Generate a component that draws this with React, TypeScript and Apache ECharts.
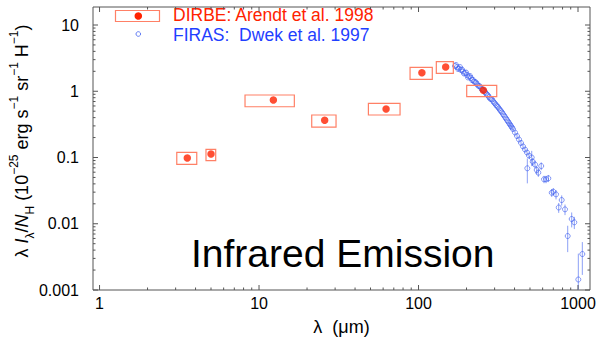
import React, { useEffect, useRef } from 'react';
import * as echarts from 'echarts';

const FONT = '"Liberation Sans", Arial, Helvetica, sans-serif';

// DIRBE (Arendt et al. 1998): wavelength (um), value, band edges, value range
const dirbeWavelength = [3.55, 5.0, 12.3, 25.8, 62.6, 105, 148, 255];
const dirbeValue = [0.0983, 0.113, 0.738, 0.364, 0.54, 1.905, 2.323, 1.034];
const dirbeBandLow = [3.05, 4.65, 8.17, 21.4, 48.5, 88.5, 129.3, 200.5];
const dirbeBandHigh = [4.07, 5.35, 16.65, 30.4, 76.6, 122, 165.3, 309.3];
const dirbeRangeLow = [0.079, 0.0895, 0.584, 0.288, 0.438, 1.515, 1.866, 0.827];
const dirbeRangeHigh = [0.1198, 0.133, 0.878, 0.438, 0.658, 2.3, 2.793, 1.23];

// FIRAS (Dwek et al. 1997)
const firasWavelength = [
  169.3, 171.8, 174.3, 176.8, 179.4, 182.0, 184.7, 187.4, 190.1, 192.9, 195.7, 198.6,
  201.4, 204.4, 207.3, 210.3, 213.4, 216.5, 219.7, 222.8, 226.1, 229.4, 232.8, 236.1,
  239.6, 243.1, 246.6, 250.1, 253.8, 257.5, 261.3, 265.0, 268.9, 272.8, 276.7, 280.8,
  284.9, 289.0, 293.2, 297.5, 301.8, 306.2, 310.6, 315.1, 319.7, 324.3, 329.0, 333.8,
  338.7, 343.6, 348.6, 353.7, 358.8, 364.0, 369.3, 374.7, 380.1, 385.6, 391.2, 402.7,
  414.5, 426.6, 439.1, 451.9, 465.2, 478.8, 481.0, 492.8, 512.6, 520.0, 537.6, 550.9,
  563.8, 588.0, 612.2, 630.1, 651.4, 684.2, 700.2, 728.1, 756.9, 790.4, 828.9, 861.8,
  912.9, 948.0, 1004.4, 1064.1,
];
const firasValue = [
  2.405, 2.49, 2.323, 2.17, 2.205, 2.32, 2.093, 2.13, 1.987, 1.853, 1.886, 1.919,
  1.759, 1.613, 1.67, 1.7, 1.585, 1.478, 1.478, 1.403, 1.379, 1.356, 1.286, 1.221,
  1.2, 1.179, 1.12, 1.063, 1.044, 1.026, 0.974, 0.925, 0.893, 0.863, 0.819, 0.777,
  0.764, 0.751, 0.712, 0.676, 0.653, 0.62, 0.599, 0.578, 0.549, 0.521, 0.503, 0.478,
  0.453, 0.431, 0.409, 0.388, 0.368, 0.35, 0.332, 0.315, 0.299, 0.284, 0.269, 0.238,
  0.211, 0.187, 0.166, 0.147, 0.132, 0.119, 0.0687, 0.107, 0.1, 0.0864, 0.0784, 0.0648,
  0.059, 0.0744, 0.0469, 0.0469, 0.0485, 0.0294, 0.0305, 0.0278, 0.0176, 0.0228, 0.0165, 0.00653,
  0.0118, 0.01051, 0.00144, 0.00349,
];
const firasError = [
  0, 0, 0, 0, 0, 0, 0, 0, 0, 0, 0, 0,
  0, 0, 0, 0, 0, 0, 0, 0, 0, 0, 0, 0,
  0, 0, 0, 0, 0, 0, 0, 0, 0, 0, 0, 0,
  0, 0, 0, 0, 0, 0, 0, 0, 0, 0, 0, 0,
  0, 0, 0, 0, 0, 0, 0.02, 0.02, 0.02, 0.02, 0.02, 0.02,
  0.018, 0.016, 0.014, 0.013, 0.012, 0.011, 0.028, 0.01, 0.026, 0.012, 0.011, 0.009,
  0.008, 0.01, 0.006, 0.006, 0.006, 0.004, 0.004, 0.0045, 0.003, 0.004, 0.003, 0.0028,
  0.003, 0.0022, 0.0021, 0.0018,
];

const xTickValues = [1, 10, 100, 1000];
const xTickLabels = ['1', '10', '100', '1000'];
const yTickValues = [0.001, 0.01, 0.1, 1, 10];
const yTickLabels = ['0.001', '0.01', '0.1', '1', '10'];

const X_MIN = 0.91;
const X_MAX = 1189;
const Y_MIN = 0.001;
const Y_MAX = 18.7;

const L = Math.log10;

const RED = '#ff2200';
const BOX = '#ff8066';
const BLUE = '#3f5ff0';
const BLUE_TEXT = '#1f40ff';
const ERR = '#8ca0f5';
const AXIS = '#555555';

export default function App() {
  const ref = useRef<HTMLDivElement>(null);
  useEffect(() => {
    document.body.style.margin = '0';
    const chart = echarts.init(ref.current!, null, { renderer: 'svg' });
    const xmin = L(X_MIN), xmax = L(X_MAX), ymin = L(Y_MIN), ymax = L(Y_MAX);

    const xTicks: number[][] = [];
    xTickValues.forEach((v, i) => xTicks.push([L(v), ymin, 1, i]));
    [1, 10, 100].forEach((d) => {
      for (let k = 2; k <= 9; k++) xTicks.push([L(d * k), ymin, 0, -1]);
    });
    const yTicks: number[][] = [];
    yTickValues.forEach((v, i) => yTicks.push([xmin, L(v), 1, i]));
    yTickValues.forEach((d) => {
      for (let k = 2; k <= 9; k++) if (L(d * k) < ymax) yTicks.push([xmin, L(d * k), 0, -1]);
    });

    const tickStyle = { stroke: AXIS, lineWidth: 1 };

    const option: any = {
      animation: false,
      grid: { left: 93, top: 7, width: 497, height: 283, show: true, borderColor: AXIS, borderWidth: 1, backgroundColor: 'transparent' },
      xAxis: { type: 'value', min: xmin, max: xmax, show: false, splitLine: { show: false } },
      yAxis: { type: 'value', min: ymin, max: ymax, show: false, splitLine: { show: false } },
      graphic: [
        { type: 'rect', shape: { x: 115.5, y: 10.5, width: 44, height: 11 }, style: { fill: 'none', stroke: BOX, lineWidth: 1.2 } },
        { type: 'circle', shape: { cx: 138.3, cy: 16, r: 3.8 }, style: { fill: RED } },
        { type: 'text', x: 173, y: 15, style: { text: 'DIRBE: Arendt et al. 1998', fill: RED, fontSize: 17.5, lineHeight: 17, fontFamily: FONT, align: 'left', verticalAlign: 'middle' } },
        { type: 'circle', shape: { cx: 138.3, cy: 34, r: 2.3 }, style: { fill: 'none', stroke: BLUE, lineWidth: 0.8 } },
        { type: 'text', x: 173, y: 34.5, style: { text: 'FIRAS:  Dwek et al. 1997', fill: BLUE_TEXT, fontSize: 17.5, lineHeight: 17, fontFamily: FONT, align: 'left', verticalAlign: 'middle' } },
        { type: 'text', x: 191, y: 253.5, style: { text: 'Infrared Emission', fill: '#000', fontSize: 39, fontFamily: FONT, align: 'left', verticalAlign: 'middle' } },
        { type: 'text', x: 341.5, y: 327, style: { text: 'λ  (μm)', fill: '#000', fontSize: 18, fontFamily: FONT, align: 'center', verticalAlign: 'middle' } },
        {
          type: 'text', x: 22, y: 141, rotation: Math.PI / 2,
          style: {
            text: '{m|λ }{i|I}{s|λ}{m|/}{i|N}{s|H}{m| (10}{p|−25}{m| erg s}{p|−1}{m| sr}{p|−1}{m| H}{p|−1}{m|)}',
            align: 'center', verticalAlign: 'middle', fill: '#000', fontFamily: FONT, fontSize: 18,
            rich: {
              m: { fontSize: 18, fontFamily: FONT, lineHeight: 28, fill: '#000' },
              i: { fontSize: 18, fontFamily: FONT, fontStyle: 'italic', lineHeight: 28, fill: '#000' },
              s: { fontSize: 12, fontFamily: FONT, verticalAlign: 'bottom', lineHeight: 16, fill: '#000' },
              p: { fontSize: 12, fontFamily: FONT, verticalAlign: 'top', lineHeight: 16, fill: '#000' },
            },
          },
        },
      ],
      series: [
        {
          type: 'custom', coordinateSystem: 'cartesian2d', silent: true, clip: false, z: 5,
          data: xTicks,
          renderItem: (_p: any, api: any) => {
            const v = api.value(0);
            const major = api.value(2) === 1;
            const idx = api.value(3);
            const pb = api.coord([v, ymin]);
            const pt = api.coord([v, ymax]);
            const len = major ? 5 : 2.5;
            const children: any[] = [
              { type: 'line', shape: { x1: pb[0], y1: pb[1], x2: pb[0], y2: pb[1] - len }, style: tickStyle },
              { type: 'line', shape: { x1: pt[0], y1: pt[1], x2: pt[0], y2: pt[1] + len }, style: tickStyle },
            ];
            if (major) children.push({ type: 'text', x: pb[0], y: pb[1] + 13, style: { text: xTickLabels[idx], fill: '#000', fontSize: 16, fontFamily: FONT, align: 'center', verticalAlign: 'middle' } });
            return { type: 'group', children };
          },
        },
        {
          type: 'custom', coordinateSystem: 'cartesian2d', silent: true, clip: false, z: 5,
          data: yTicks,
          renderItem: (_p: any, api: any) => {
            const v = api.value(1);
            const major = api.value(2) === 1;
            const idx = api.value(3);
            const pl = api.coord([xmin, v]);
            const pr = api.coord([xmax, v]);
            const len = major ? 5 : 2.5;
            const children: any[] = [
              { type: 'line', shape: { x1: pl[0], y1: pl[1], x2: pl[0] + len, y2: pl[1] }, style: tickStyle },
              { type: 'line', shape: { x1: pr[0], y1: pr[1], x2: pr[0] - len, y2: pr[1] }, style: tickStyle },
            ];
            if (major) children.push({ type: 'text', x: pl[0] - 14, y: pl[1], style: { text: yTickLabels[idx], fill: '#000', fontSize: 16, fontFamily: FONT, align: 'right', verticalAlign: 'middle' } });
            return { type: 'group', children };
          },
        },
        {
          type: 'custom', coordinateSystem: 'cartesian2d', silent: true, clip: true, z: 2,
          data: firasWavelength.map((w, i) => {
            const v = firasValue[i], e = firasError[i];
            const lo = v - e > 0 ? L(v - e) : ymin - 1;
            return [L(w), L(v), lo, L(v + e), e];
          }),
          renderItem: (_p: any, api: any) => {
            if (!(api.value(4) > 0)) return null;
            const a = api.coord([api.value(0), api.value(2)]);
            const b = api.coord([api.value(0), api.value(3)]);
            return { type: 'line', shape: { x1: a[0], y1: a[1], x2: b[0], y2: b[1] }, style: { stroke: ERR, lineWidth: 1 } };
          },
        },
        {
          type: 'scatter', silent: true, z: 3,
          symbol: 'circle', symbolSize: 5,
          itemStyle: { color: 'rgba(255,255,255,0)', borderColor: BLUE, borderWidth: 0.8 },
          data: firasWavelength.map((w, i) => [L(w), L(firasValue[i])]),
        },
        {
          type: 'custom', coordinateSystem: 'cartesian2d', silent: true, clip: false, z: 4,
          data: dirbeWavelength.map((_w, i) => [L(dirbeBandLow[i]), L(dirbeRangeLow[i]), L(dirbeBandHigh[i]), L(dirbeRangeHigh[i])]),
          renderItem: (_p: any, api: any) => {
            const a = api.coord([api.value(0), api.value(3)]);
            const b = api.coord([api.value(2), api.value(1)]);
            return { type: 'rect', shape: { x: a[0], y: a[1], width: b[0] - a[0], height: b[1] - a[1] }, style: { fill: 'none', stroke: BOX, lineWidth: 1.2 } };
          },
        },
        {
          type: 'scatter', silent: true, z: 6,
          symbol: 'circle', symbolSize: 7.5,
          itemStyle: { color: RED },
          data: dirbeWavelength.map((w, i) => [L(w), L(dirbeValue[i])]),
        },
      ],
    };
    chart.setOption(option);
    return () => chart.dispose();
  }, []);
  return <div ref={ref} style={{ width: 608, height: 339 }} />;
}
